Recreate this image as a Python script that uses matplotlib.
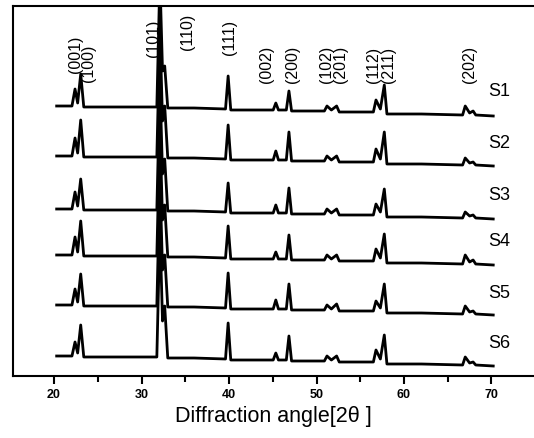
import matplotlib
matplotlib.use("Agg")
import matplotlib.pyplot as plt
import numpy as np

plt.rcParams['font.family'] = ['Liberation Sans', 'DejaVu Sans']

# vertices of the traced patterns, 2theta in degrees
two_theta = [20.3, 22.05, 22.4, 22.7, 23.05, 23.4, 27.0, 31.75, 32.1, 32.4,
             32.65, 33.0, 36.0, 39.6, 39.9, 40.2, 45.05, 45.35, 45.65, 46.55,
             46.85, 47.15, 50.9, 51.2, 51.7, 52.3, 52.6, 56.5, 56.8, 57.3,
             57.75, 58.05, 62.0, 66.7, 67.0, 67.5, 67.9, 68.2, 70.2]

# background drift (same for all samples)
background = [0, 0, 0, 3, 0, -1, -1, -1, -1, 35, 0, -2, -2, -3, -3, -4, -4,
              -4, -4, -4, -4, -5, -5, -5, -4, -5, -6, -6, -6, -3, -6, -8,
              -8, -9, -9, -7, -9, -9, -10]

# index of each peak vertex (same order as the height lists)
peak_idx = [2, 4, 8, 10, 14, 17, 20, 23, 25, 28, 30, 34, 36]

samples = ['S1', 'S2', 'S3', 'S4', 'S5', 'S6']
# peak heights above background for each sample
peak_heights = {
    'S1': [17, 32, 130, 40, 33, 7, 19, 5, 5, 12, 27, 9, 4],
    'S2': [18, 36, 130, 50, 34, 9, 28, 5, 5, 13, 30, 7, 3],
    'S3': [17, 30, 130, 50, 29, 8, 25, 5, 5, 11, 26, 6, 3],
    'S4': [18, 34, 130, 50, 32, 7, 24, 5, 5, 12, 27, 9, 4],
    'S5': [16, 31, 130, 50, 35, 9, 25, 5, 6, 10, 27, 8, 3],
    'S6': [14, 31, 130, 50, 36, 7, 24, 5, 5, 12, 27, 8, 3],
}
offsets = [270, 220, 167, 121, 71, 20]

hkl = ['(001)', '(100)', '(101)', '(110)', '(111)', '(002)', '(200)',
       '(102)', '(201)', '(112)', '(211)', '(202)']
hkl_x = [22.4, 23.9, 31.4, 35.2, 40.1, 44.3, 47.3, 51.1, 52.8, 56.5, 58.2, 67.5]
hkl_y = [304, 295, 320, 327, 322, 294, 294, 294, 294, 294, 294, 294]

label_y = [285, 233, 181, 135, 84, 33]

fig = plt.figure(figsize=(5.34, 4.39), dpi=100)
ax = fig.add_axes([13 / 534, 62 / 439, 1 - 13 / 534, 370 / 439])

for name, off, ly in zip(samples, offsets, label_y):
    y = np.array(background, dtype=float) + off
    for i, h in zip(peak_idx, peak_heights[name]):
        y[i] += h
    ax.plot(two_theta, y, color='black', lw=2.0)
    ax.text(69.6, ly, name, fontsize=13, va='center', ha='left')

for lab, x, y in zip(hkl, hkl_x, hkl_y):
    ax.text(x, y, lab, rotation=90, fontsize=11.5, ha='center', va='bottom')

ax.set_xlim(15.31, 74.86)
ax.set_ylim(0, 370)
ax.set_yticks([])
ax.spines['right'].set_visible(False)
for s in ['left', 'top', 'bottom']:
    ax.spines[s].set_linewidth(1.5)
ax.set_xticks([20, 30, 40, 50, 60, 70])
ax.set_xticks([25, 35, 45, 55, 65], minor=True)
ax.tick_params(axis='x', which='major', direction='out', length=6, width=1.5,
               pad=3)
ax.tick_params(axis='x', which='minor', direction='out', length=4, width=1.5)
for t in ax.get_xticklabels():
    t.set_fontsize(9)
    t.set_fontweight('bold')
ax.set_xlabel('Diffraction angle[2θ ]', fontsize=15.5, labelpad=3)

fig.savefig('out.png', dpi=100)
